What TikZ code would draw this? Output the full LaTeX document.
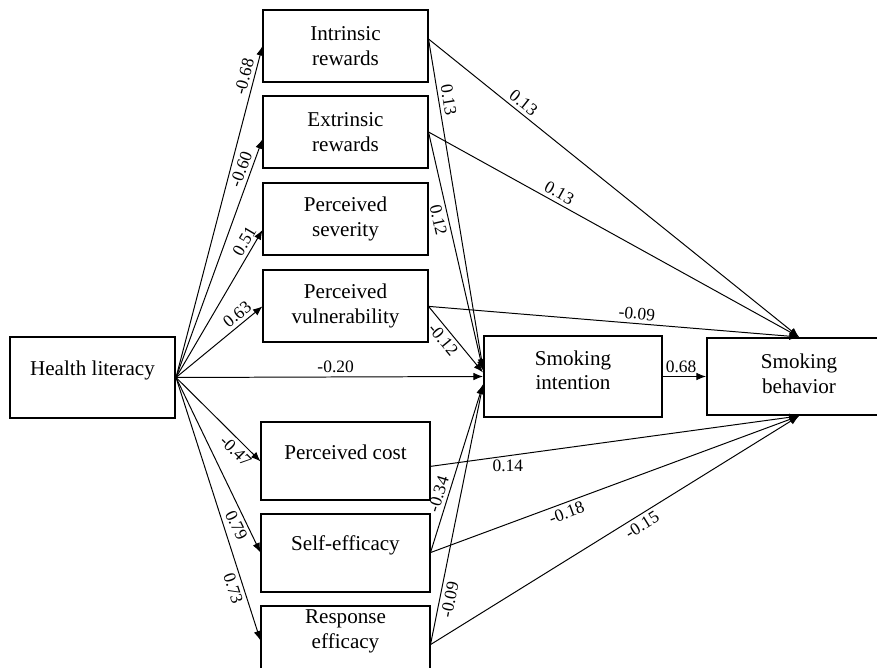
\documentclass[tikz,border=0pt]{standalone}
\usepackage{fontspec}
\setmainfont{Liberation Serif}
\usepackage{tikz}
\usetikzlibrary{arrows.meta,positioning}
\tikzset{
  box/.style={draw,line width=1.4pt,align=center,inner sep=3pt,font=\fontsize{15}{17.7}\selectfont},
  oneline/.style={text depth=13pt},
  arr/.style={-{Latex[length=2.4mm,width=1.9mm]},line width=0.7pt},
  coef/.style={font=\fontsize{12.4}{14}\selectfont,inner sep=2.5pt}
}

\begin{document}
\begin{tikzpicture}[x=0.025cm,y=-0.025cm,
  mid/.style={box,minimum width=4.1cm,minimum height=1.8cm},
  low/.style={box,minimum width=4.2cm,minimum height=1.95cm}]
\useasboundingbox (0,0) rectangle (877,668);
\clip (0,0) rectangle (877,668);
% predictor
\node[box,oneline,minimum width=4.125cm,minimum height=2.025cm] (hl) at (92.5,377.5) {Health literacy};
% mediators
\node[mid] (intr) at (345.5,46) {Intrinsic\\rewards};
\node[mid,below=0.3cm of intr] (ext) {Extrinsic\\rewards};
\node[mid,below=0.33cm of ext] (sev) {Perceived\\severity};
\node[mid,below=0.33cm of sev] (vul) {Perceived\\vulnerability};
\node[low,oneline,below=1.95cm of vul] (cost) {Perceived cost};
\node[low,oneline,below=0.28cm of cost] (self) {Self-efficacy};
\node[low,text depth=22pt,below=0.3cm of self] (resp) {Response\\efficacy};
% outcomes
\node[box,text depth=9pt,minimum width=4.45cm,minimum height=2.025cm] (int) at (573,376.5) {Smoking\\intention};
\node[box,text depth=4pt,minimum width=4.6cm,minimum height=1.925cm,right=1.075cm of int] (beh) {Smoking\\behavior};
% health literacy -> mediators
\draw[arr] (hl.east) -- node[coef,sloped,above,pos=0.9]{-0.68} (intr.west);
\draw[arr] (hl.east) -- node[coef,sloped,above,pos=0.86]{-0.60} ([yshift=-1.8mm]ext.west);
\draw[arr] (hl.east) -- node[coef,sloped,above,pos=0.89]{0.51} ([yshift=-2.7mm]sev.west);
\draw[arr] (hl.east) -- node[coef,sloped,above,pos=0.78]{0.63} (vul.west);
\draw[arr] (hl.east) -- node[coef,above,pos=0.52]{-0.20} (int.west);
\draw[arr] (hl.east) -- node[coef,sloped,below,pos=0.79]{-0.47} (cost.west);
\draw[arr] (hl.east) -- node[coef,sloped,below,pos=0.82]{0.79} (self.west);
\draw[arr] (hl.east) -- node[coef,sloped,below,pos=0.79]{0.73} ([yshift=1mm]resp.west);
% mediators -> intention
\draw[arr] ([yshift=1.75mm]intr.east) -- node[coef,sloped,above,pos=0.19]{0.13} ([yshift=2mm]int.west);
\draw[arr] (ext.east) -- node[coef,sloped,below,pos=0.36]{0.12} ([yshift=1.5mm]int.west);
\draw[arr] (vul.east) -- node[coef,sloped,below,pos=0.41]{-0.12} ([yshift=1mm]int.west);
\draw[arr] (self.east) -- node[coef,sloped,above,pos=0.33]{-0.34} ([yshift=-2mm]int.west);
\draw[arr] (resp.east) -- node[coef,sloped,below,pos=0.18]{-0.09} ([yshift=-2mm]int.west);
% mediators -> behavior
\draw[arr] ([yshift=1.75mm]intr.east) -- node[coef,sloped,above,pos=0.24]{0.13} (beh.north);
\draw[arr] (ext.east) -- node[coef,sloped,above,pos=0.34]{0.13} (beh.north);
\draw[arr] (vul.east) -- node[coef,sloped,above,pos=0.56]{-0.09} (beh.north);
\draw[arr] ([yshift=-1.25mm]cost.east) -- node[coef,below,pos=0.21]{0.14} (beh.south);
\draw[arr] (self.east) -- node[coef,sloped,below,pos=0.36]{-0.18} (beh.south);
\draw[arr] (resp.east) -- node[coef,sloped,below,pos=0.56]{-0.15} (beh.south);
% intention -> behavior
\draw[arr] (int.east) -- node[coef,above,pos=0.42]{0.68} (int.east -| beh.west);
\end{tikzpicture}
\end{document}
